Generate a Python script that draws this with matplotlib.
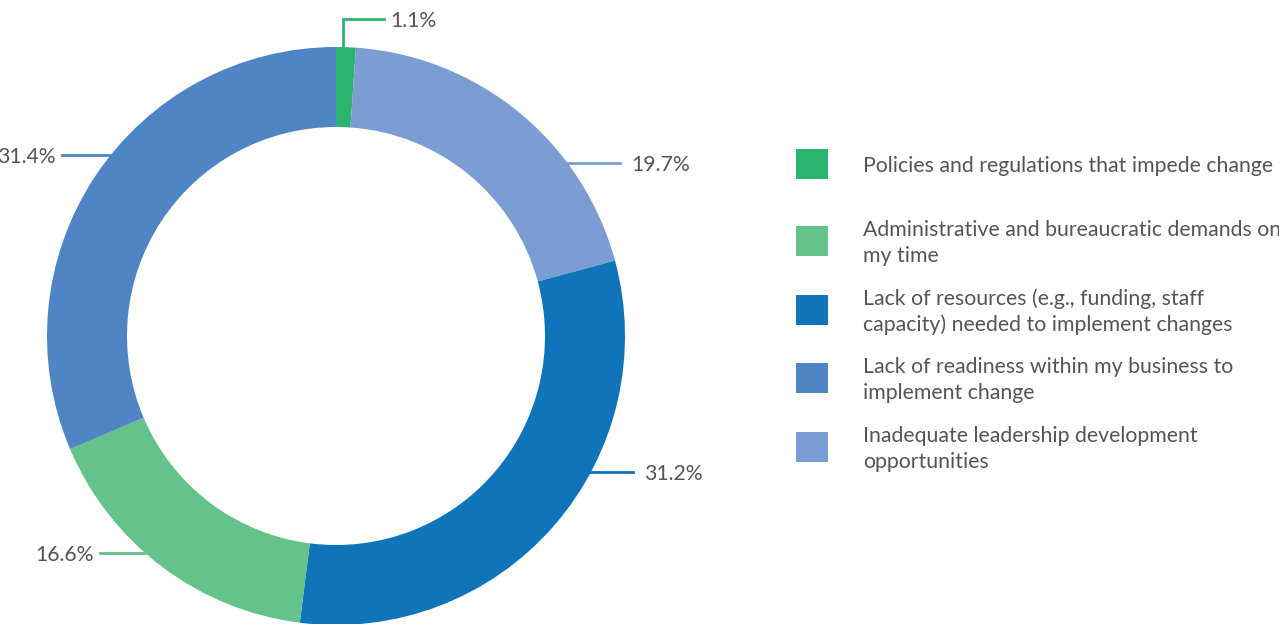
import matplotlib.pyplot as plt
from matplotlib.patches import Rectangle
import numpy as np

plt.rcParams["font.family"] = ["Lato", "DejaVu Sans"]

# 各項障礙所佔比例（順時針，由頂部開始）
categories = [
    "Policies and regulations that impede change",
    "Inadequate leadership development\nopportunities",
    "Lack of resources (e.g., funding, staff\ncapacity) needed to implement changes",
    "Administrative and bureaucratic demands on\nmy time",
    "Lack of readiness within my business to\nimplement change",
]
shares = [1.1, 19.7, 31.2, 16.6, 31.4]
colors = ["#2bb46f", "#7b9dd3", "#0f74ba", "#64c28b", "#5085c5"]

# 圖例順序
legend_order = [0, 3, 2, 4, 1]

W, H = 1279, 624
CX, CY, R_OUT, R_IN = 336, 336, 289, 209
TEXT_COLOR = "#555555"
FS = 15.3
DY = 2  # 文字垂直微調

fig = plt.figure(figsize=(W / 100, H / 100), dpi=100)

# 甜甜圈
ax = fig.add_axes([(CX - R_OUT) / W, (H - CY - R_OUT) / H, 2 * R_OUT / W, 2 * R_OUT / H])
ax.pie(
    shares,
    colors=colors,
    startangle=90,
    counterclock=False,
    radius=1,
    wedgeprops=dict(width=(R_OUT - R_IN) / R_OUT, linewidth=0),
)
ax.set_xlim(-1, 1)
ax.set_ylim(-1, 1)
ax.set_aspect("equal")
ax.axis("off")

# 標註用的覆蓋層（像素座標）
ov = fig.add_axes([0, 0, 1, 1], zorder=-1)
ov.set_xlim(0, W)
ov.set_ylim(H, 0)
ov.axis("off")

# 標籤位置：(標籤高度, 線段終點 x, 對齊方式)
label_pos = [None, (163, 620, "left"), (472, 633, "left"), (553, 100, "right"), (155, 62, "right")]

for i, (val, col) in enumerate(zip(shares, colors)):
    txt = f"{val:.1f}%"
    if label_pos[i] is None:
        # 小扇區：折線
        mid = (sum(shares[:i]) + val / 2) / 100 * 2 * np.pi
        x0 = CX + R_OUT * np.sin(mid) - 3
        y0 = CY - R_OUT * np.cos(mid) + 4
        ov.plot([x0, x0, 384], [y0, 19, 19], color=col, lw=2, solid_joinstyle="miter")
        ov.text(390, 19 + DY, txt, ha="left", va="center", fontsize=FS, color=TEXT_COLOR)
        continue
    y, xe, ha = label_pos[i]
    dx = np.sqrt(R_OUT ** 2 - (y - CY) ** 2) - 10
    xs = CX + dx if ha == "left" else CX - dx
    ov.plot([xs, xe], [y, y], color=col, lw=2)
    tx = xe + 11 if ha == "left" else xe - 6
    ov.text(tx, y + DY, txt, ha=ha, va="center", fontsize=FS, color=TEXT_COLOR)

# 圖例
row_y = [164, 241, 310, 378, 447]
for k, idx in enumerate(legend_order):
    yc = row_y[k]
    ov.add_patch(Rectangle((796, yc - 15), 32, 30, color=colors[idx], lw=0))
    ov.text(863, yc + DY, categories[idx], ha="left", va="center", fontsize=FS,
            color=TEXT_COLOR, linespacing=1.32)

fig.savefig("out.png", dpi=100)
